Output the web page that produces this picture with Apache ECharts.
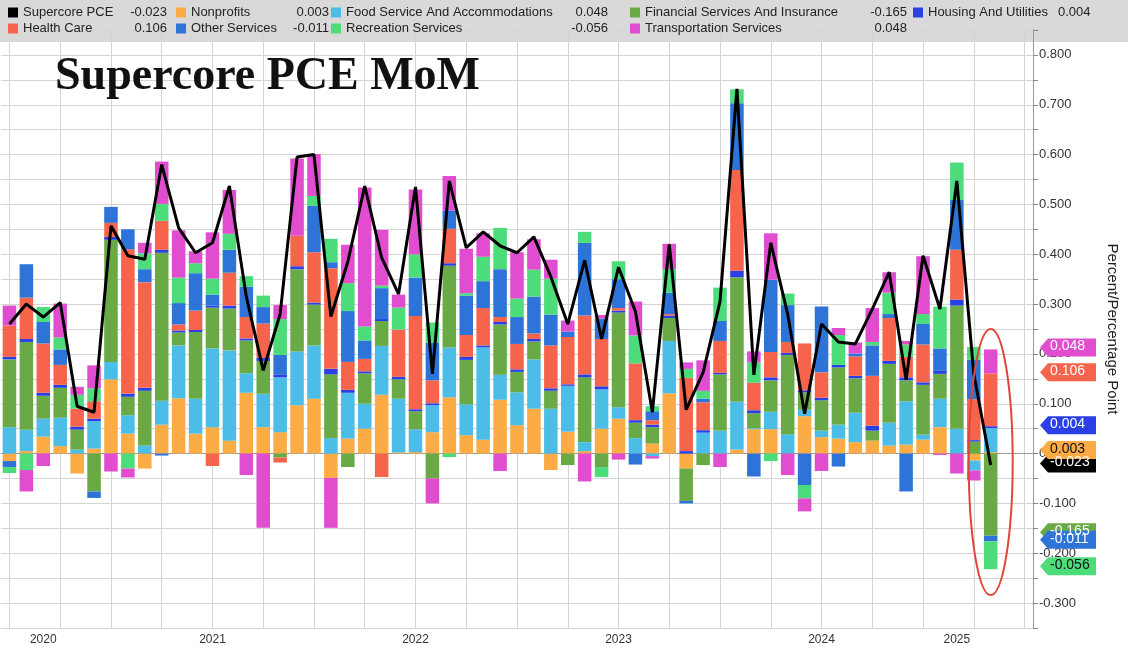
<!DOCTYPE html>
<html>
<head>
<meta charset="utf-8">
<script src="https://cdn.jsdelivr.net/npm/echarts@6/dist/echarts.min.js"></script>
<style>
  html, body { margin: 0; padding: 0; background: #fff; }
  #main { width: 1128px; height: 650px; }
</style>
</head>
<body>
<div id="main"></div>
<script>
var chartDom = document.getElementById('main');
var myChart = echarts.init(chartDom);

// months Jul 2020 .. Jul 2025 (last two empty)
var months = [];
for (var y = 2020; y <= 2025; y++) {
    for (var m = 1; m <= 12; m++) {
        if (y == 2020 && m < 7) continue;
        if (y == 2025 && m > 7) continue;
        months.push(y + '-' + (m < 10 ? '0' + m : m));
    }
}

var supercore = [0.26,0.30,0.274,0.303,0.095,0.083,0.457,0.397,0.39,0.58,0.453,0.403,0.423,0.537,0.315,0.167,0.28,0.595,0.60,0.275,0.385,0.537,0.393,0.32,0.535,0.16,0.547,0.413,0.445,0.417,0.403,0.435,0.355,0.26,0.388,0.23,0.374,0.285,0.083,0.42,0.088,0.163,0.305,0.732,0.158,0.423,0.28,0.08,0.26,0.224,0.22,0.29,0.364,0.148,0.397,0.29,0.547,0.16,-0.023];
var nonprofits = [-0.015,0.005,0.034,0.015,-0.04,0.01,0.149,0.04,-0.03,0.058,0.111,0.04,0.053,0.026,0.122,0.053,0.043,0.097,0.11,-0.049,0.03,0.05,0.118,0.002,0.003,0.043,0.113,0.037,0.028,0.108,0.057,0.09,-0.033,0.044,0.005,0.05,0.07,0,0.02,0.121,-0.03,0,0,0.008,0.049,0.049,0,0.075,0.033,0.03,0.023,0.026,0.016,0.018,0.028,0.053,0,-0.014,0.003];
var foodService = [0.053,0.043,0.036,0.057,0.008,0.055,0.035,0.037,0.016,0.048,0.106,0.07,0.158,0.181,0.039,0.067,0.11,0.108,0.107,0.031,0.092,0.05,0.098,0.108,0.046,0.054,0.1,0.062,0.185,0.05,0.066,0.099,0.09,0.092,0.018,0.079,0.023,0.031,-0.005,0.105,0,0.042,0.046,0.096,0.002,0.035,0.039,0.013,0.013,0.028,0.059,0,0.046,0.087,0.01,0.057,0.05,-0.02,0.048];
var financial = [0.136,0.176,0.046,0.06,0.04,-0.076,0.245,0.037,0.11,0.297,0.026,0.134,0.082,0.084,0.066,0.066,-0.008,0.165,0.082,0.128,-0.027,0.061,0.05,0.039,0.036,-0.05,0.164,0.089,0,0.101,0.041,0.036,0.036,-0.023,0.13,-0.027,0.19,0.031,0.033,0.046,-0.065,-0.023,0.113,0.25,0.03,0.063,0.159,0.035,0.061,0.115,0.069,0.02,0.118,0.042,0.1,0.05,0.247,0.024,-0.165];
var housing = [0.005,0.006,0.006,0.006,0.006,0.005,0.006,0.006,0.006,0.006,0.004,0.004,0.004,0.006,0.004,0.006,0.005,0.006,0.004,0.011,0.006,0.004,0.004,0.005,0.004,0.004,0.005,0.006,0.004,0.005,0.005,0.005,0.005,0.003,0.006,0.006,0.004,0.005,0.005,0.005,0.005,0.005,0.003,0.013,0.006,0.006,0.004,0.004,0.005,0.005,0.005,0.01,0.006,0.006,0.005,0.006,0.012,0.003,0.004];
var healthCare = [0.063,0.083,0.099,0.04,0.036,0.035,0.028,0.29,0.212,0.058,0.012,0.039,-0.025,0.066,0.043,0.069,-0.01,0.061,0.101,0.202,0.056,0.025,-0.047,0.095,0.187,0.046,0.069,0.044,0.075,0.01,0.051,0.011,0.086,0.095,0.118,0.095,0.005,0.114,0.009,0.003,0.147,0.056,0.064,0.202,0.055,0.051,0.022,0.094,0.051,0,0.039,0.1,0.086,0.041,0.076,0,0.1,0.082,0.106];
var otherServices = [-0.012,0.067,0.043,0.031,0,-0.013,0.032,0.04,0.026,-0.004,0.043,0.075,0.022,0.046,0.061,0.033,0.04,0,0.093,0.012,0.102,0.037,0.062,0,0.077,0.075,0.037,0.079,0.054,0.096,0.054,0.074,0.062,0.011,0.146,0.041,0.058,-0.022,0.018,0.043,-0.005,0.007,0.04,0.134,-0.046,0.145,0.074,-0.063,0.132,-0.026,0.006,0.061,0.008,-0.076,0.041,0.045,0.1,0.079,-0.011];
var recreation = [-0.012,-0.033,0.03,0.024,0.028,0.026,0,-0.03,0.032,0.034,0.051,0.02,0.032,0.032,0.021,0.023,0.072,0,0.02,0.047,0.056,0.028,0.005,0.044,0.047,0.041,-0.007,0.005,0.049,0.083,0.037,0.054,0.072,0,0.022,-0.02,0.036,0.056,0.01,0.047,0.018,0.016,0.067,0.028,0.041,-0.015,0.023,-0.027,0,0.06,0,0.007,0.043,0.025,0.02,0.084,0.075,0.026,-0.056];
var transportation = [0.04,-0.043,-0.025,0.068,0.016,0.046,-0.036,-0.018,0.021,0.085,0.095,0.024,0.093,0.088,-0.043,-0.149,0.028,0.155,0.084,-0.1,0.077,0.279,0.112,0.026,0.13,-0.05,0.069,0.089,0.047,-0.035,0.093,0.061,0.038,0.022,-0.056,0.007,-0.012,0.068,-0.005,0.051,0.013,0.061,-0.027,0,0.022,0.093,-0.043,-0.026,-0.035,0.014,0.022,0.068,0.041,0.007,0.116,-0.003,-0.04,-0.02,0.048];

// latest values shown in the legend and the right-hand tags
var names = ['Supercore PCE', 'Nonprofits', 'Food Service And Accommodations', 'Financial Services And Insurance', 'Housing And Utilities', 'Health Care', 'Other Services', 'Recreation Services', 'Transportation Services'];
var latest = ['-0.023', '0.003', '0.048', '-0.165', '0.004', '0.106', '-0.011', '-0.056', '0.048'];
var colors = ['#000000', '#fbac45', '#4cbde6', '#6aaa46', '#2a3fe6', '#f5644b', '#2e74d8', '#4ddc7a', '#e04ecf'];
var tagAt = [-0.02, 0.007, null, -0.158, 0.057, 0.163, -0.173, -0.226, 0.213];

var yearLabels = { '2020-09': '2020', '2021-07': '2021', '2022-07': '2022', '2023-07': '2023', '2024-07': '2024', '2025-03': '2025' };

var barData = [nonprofits, foodService, financial, housing, healthCare, otherServices, recreation, transportation];

var series = [];
barData.forEach(function (d, i) {
    series.push({
        name: names[i + 1],
        type: 'bar',
        stack: 'pce',
        barWidth: '80%',
        itemStyle: { color: colors[i + 1] },
        data: d
    });
});
series.push({
    name: names[0],
    type: 'line',
    data: supercore,
    symbol: 'none',
    z: 10,
    lineStyle: { color: '#000', width: 3 },
    itemStyle: { color: '#000' }
});

// legend: two rows, five columns
var legendCols = [8, 176, 331, 630, 913];
var nameW = [106, 100, 224, 224, 130];
var legendPos = [[0, 0], [1, 0], [2, 0], [3, 0], [4, 0], [0, 1], [1, 1], [2, 1], [3, 1]];
var legends = names.map(function (n, i) {
    var c = legendPos[i][0];
    return {
        data: [n],
        left: legendCols[c],
        top: 6 + legendPos[i][1] * 16,
        itemWidth: 10,
        itemHeight: 10,
        itemGap: 0,
        padding: 0,
        icon: 'rect',
        selectedMode: false,
        formatter: function (name) {
            return '{n|' + name + '}{v|' + latest[i] + '}';
        },
        textStyle: {
            rich: {
                n: { width: nameW[c], fontSize: 13, color: '#222', fontFamily: 'Arial, Liberation Sans' },
                v: { width: c == 4 ? 30 : 38, align: c == 4 ? 'left' : 'right', fontSize: 13, color: '#222', fontFamily: 'Arial, Liberation Sans' }
            }
        }
    };
});

var option = {
    animation: false,
    color: colors,
    legend: legends,
    grid: { left: 1, right: 88, top: 30, bottom: 22 },
    xAxis: {
        type: 'category',
        data: months,
        axisLine: { lineStyle: { color: '#999' } },
        axisTick: {
            length: 22,
            lineStyle: { color: '#aaa' },
            interval: function (i, v) { return v.slice(5) == '01'; }
        },
        axisLabel: {
            interval: 0,
            fontSize: 12,
            color: '#333',
            margin: 6,
            formatter: function (v) { return yearLabels[v] || ''; }
        },
        splitLine: {
            show: true,
            alignWithLabel: true,
            interval: function (i) { return i % 3 == 0; },
            lineStyle: { color: '#d4d4d4' }
        }
    },
    yAxis: {
        type: 'value',
        position: 'right',
        min: -0.35,
        max: 0.85,
        interval: 0.05,
        name: 'Percent/Percentage Point',
        nameLocation: 'middle',
        nameRotate: -90,
        nameGap: 72,
        nameTextStyle: { fontSize: 15, color: '#222', fontFamily: 'Arial, Liberation Sans' },
        axisLine: { show: true, lineStyle: { color: '#999' } },
        axisTick: { show: true, length: 5, lineStyle: { color: '#888' } },
        axisLabel: {
            fontSize: 13,
            color: '#333',
            margin: 6,
            formatter: function (v) {
                var r = Math.round(v * 10) / 10;
                if (Math.abs(v - r) > 1e-6 || v > 0.81 || v < -0.31) return '';
                return r.toFixed(3);
            }
        },
        splitLine: { lineStyle: { color: '#d4d4d4' } }
    },
    graphic: [
        { type: 'rect', left: 0, top: 0, z: -1, shape: { width: 1128, height: 42 }, style: { fill: '#d9d9d9' } },
        {
            type: 'text', left: 55, top: 54, z: 100,
            style: {
                text: 'Supercore PCE MoM',
                font: 'bold 46px "Liberation Serif", "DejaVu Serif", serif',
                fill: '#111',
                shadowColor: 'rgba(0,0,0,0.45)', shadowBlur: 4, shadowOffsetX: 3, shadowOffsetY: 3
            }
        }
    ],
    series: series
};

option && myChart.setOption(option);

// right-hand value tags and the red ellipse
var extra = [];
tagAt.forEach(function (v, i) {
    if (v == null) return;
    var py = myChart.convertToPixel({ yAxisIndex: 0 }, v);
    extra.push({
        type: 'polygon', z: 50,
        shape: { points: [[1040, py], [1048, py - 9], [1096, py - 9], [1096, py + 9], [1048, py + 9]] },
        style: { fill: colors[i] }
    });
    extra.push({
        type: 'text', z: 51, x: 1050, y: py - 8,
        style: { text: latest[i], font: '14px Arial, "Liberation Sans"', fill: (i == 1 || i == 7) ? '#111' : '#fff' }
    });
});
var ex = myChart.convertToPixel({ xAxisIndex: 0 }, months[58]);
extra.push({
    type: 'ellipse', z: 60,
    shape: { cx: ex, cy: 462, rx: 22, ry: 133 },
    style: { fill: 'none', stroke: '#e0453a', lineWidth: 2 }
});
myChart.setOption({ graphic: option.graphic.concat(extra) });
</script>
</body>
</html>
